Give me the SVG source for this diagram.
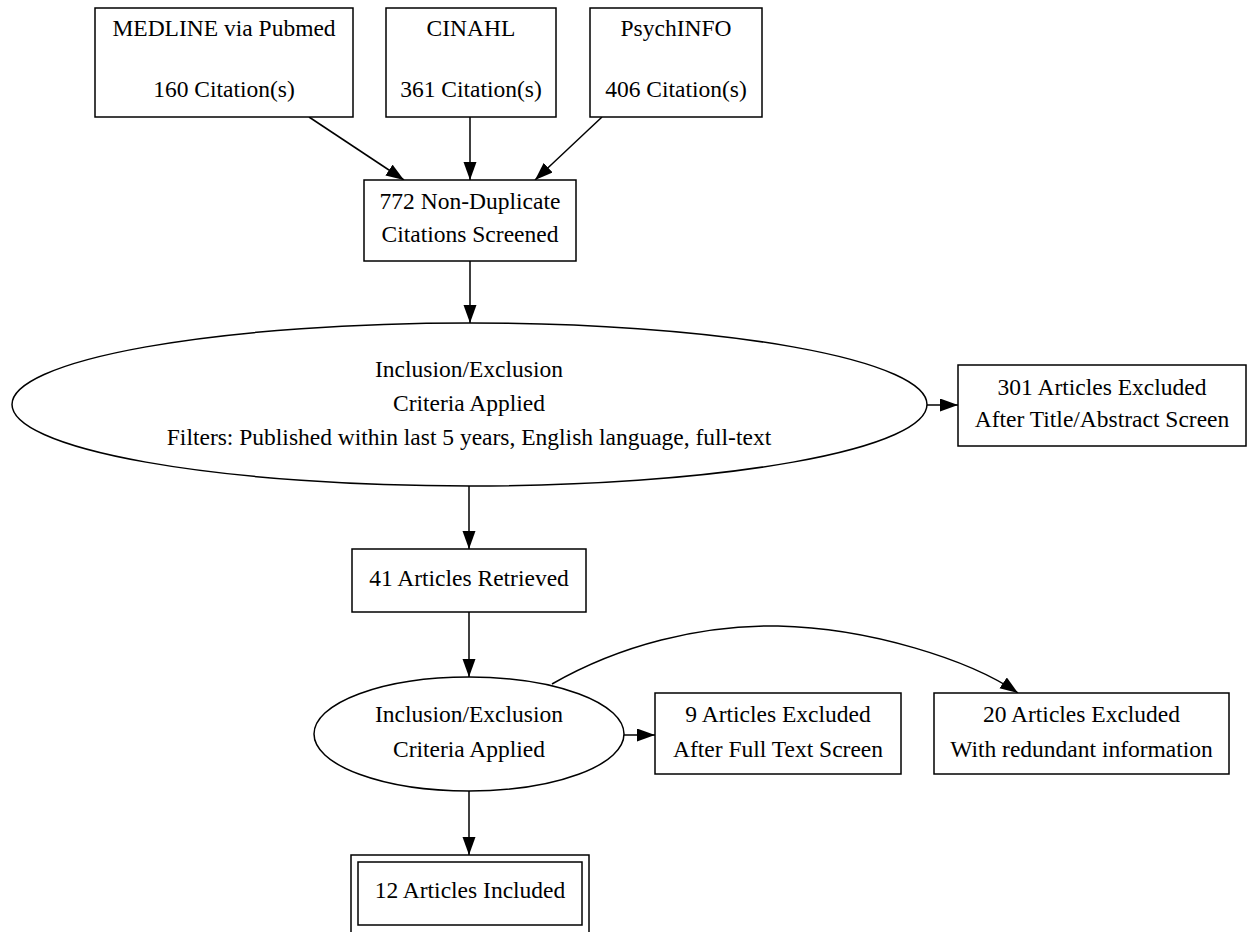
<svg xmlns="http://www.w3.org/2000/svg" width="1249" height="932" viewBox="0 0 1249 932">
<style>
.n{fill:#fff;stroke:#000;stroke-width:1.5}
.t{font-family:"Liberation Serif","Times New Roman",serif;font-size:23.5px;fill:#000;text-anchor:middle}
.e{fill:none;stroke:#000;stroke-width:1.5}
</style>
<defs>
<marker id="ah" markerUnits="userSpaceOnUse" markerWidth="19" markerHeight="14" refX="18" refY="6.5" orient="auto">
<path d="M0,0 L18,6.5 L0,13 z" fill="#000"/>
</marker>
</defs>
<rect width="1249" height="932" fill="#fff"/>
<g id="connectors">
<path class="e" d="M309,117 L404,180" marker-end="url(#ah)"/>
<path class="e" d="M470,117 L470,180" marker-end="url(#ah)"/>
<path class="e" d="M602,117 L535,180" marker-end="url(#ah)"/>
<path class="e" d="M470,261 L470,323" marker-end="url(#ah)"/>
<path class="e" d="M927,405 L958,405" marker-end="url(#ah)"/>
<path class="e" d="M469,486 L469,549" marker-end="url(#ah)"/>
<path class="e" d="M469,612 L469,677" marker-end="url(#ah)"/>
<path class="e" d="M624,735 L655,735" marker-end="url(#ah)"/>
<path class="e" d="M552,684 C620,645 700,625 778,626 C870,628 970,660 1018,693" marker-end="url(#ah)"/>
<path class="e" d="M469,791 L469,855" marker-end="url(#ah)"/>
</g>
<g id="medline">
<rect class="n" x="95" y="8" width="258" height="109"/>
<text class="t" x="224" y="36">MEDLINE via Pubmed</text>
<text class="t" x="224" y="97">160 Citation(s)</text>
</g>
<g id="cinahl">
<rect class="n" x="386" y="8" width="170" height="109"/>
<text class="t" x="471" y="36">CINAHL</text>
<text class="t" x="471" y="97">361 Citation(s)</text>
</g>
<g id="psychinfo">
<rect class="n" x="590" y="8" width="172" height="109"/>
<text class="t" x="676" y="36">PsychINFO</text>
<text class="t" x="676" y="97">406 Citation(s)</text>
</g>
<g id="nondup">
<rect class="n" x="364" y="180" width="212" height="81"/>
<text class="t" x="470" y="209">772 Non-Duplicate</text>
<text class="t" x="470" y="242">Citations Screened</text>
</g>
<g id="criteria1">
<ellipse class="n" cx="469.5" cy="404.5" rx="457.5" ry="81.5"/>
<text class="t" x="469" y="377">Inclusion/Exclusion</text>
<text class="t" x="469" y="411">Criteria Applied</text>
<text class="t" x="469" y="445">Filters: Published within last 5 years, English language, full-text</text>
</g>
<g id="excluded301">
<rect class="n" x="958" y="365" width="288" height="81"/>
<text class="t" x="1102" y="395">301 Articles Excluded</text>
<text class="t" x="1102" y="427">After Title/Abstract Screen</text>
</g>
<g id="retrieved">
<rect class="n" x="352" y="549" width="234" height="63"/>
<text class="t" x="469" y="586">41 Articles Retrieved</text>
</g>
<g id="criteria2">
<ellipse class="n" cx="469" cy="734" rx="155" ry="57"/>
<text class="t" x="469" y="722">Inclusion/Exclusion</text>
<text class="t" x="469" y="757">Criteria Applied</text>
</g>
<g id="excluded9">
<rect class="n" x="655" y="693" width="246" height="81"/>
<text class="t" x="778" y="722">9 Articles Excluded</text>
<text class="t" x="778" y="757">After Full Text Screen</text>
</g>
<g id="excluded20">
<rect class="n" x="934" y="693" width="295" height="81"/>
<text class="t" x="1081.5" y="722">20 Articles Excluded</text>
<text class="t" x="1081.5" y="757">With redundant information</text>
</g>
<g id="included">
<rect class="n" x="351" y="855" width="238" height="80"/>
<rect class="n" x="358" y="862" width="224" height="63"/>
<text class="t" x="470" y="898">12 Articles Included</text>
</g>
</svg>
